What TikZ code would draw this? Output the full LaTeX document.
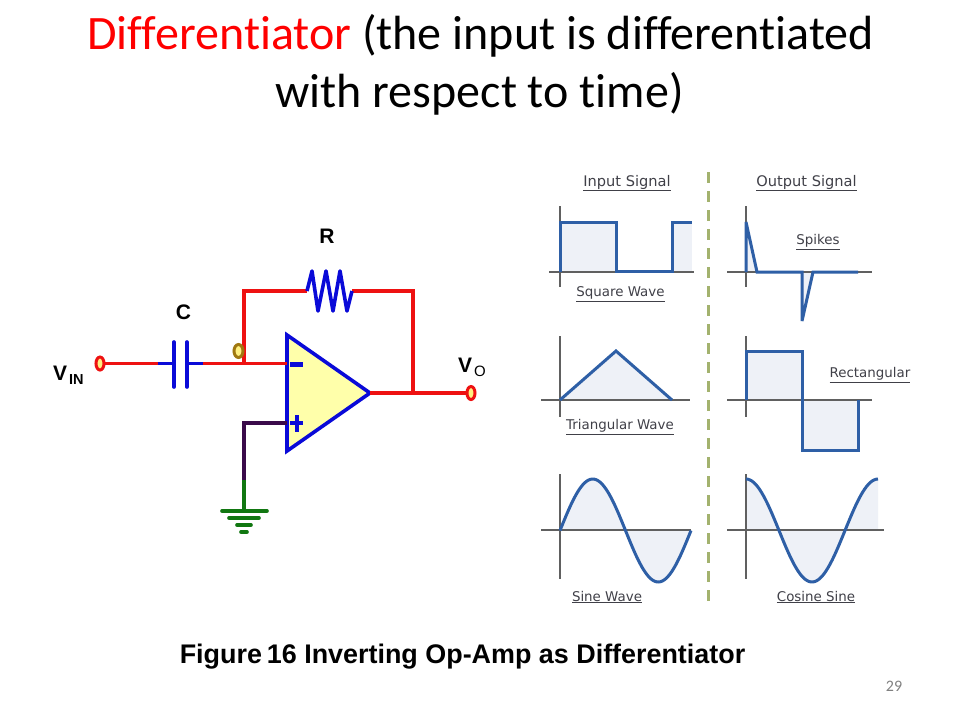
\documentclass[tikz,border=0pt]{standalone}
\usepackage{fontspec}
\setmainfont{Liberation Sans}
\newfontfamily\titlefont[Ligatures=NoCommon]{Carlito}
\newfontfamily\plotfont{DejaVu Sans}
\definecolor{wirered}{HTML}{EE1111}
\definecolor{partblue}{HTML}{0A0AD8}
\definecolor{opfill}{HTML}{FFFFAA}
\definecolor{gndgreen}{HTML}{117711}
\definecolor{purplewire}{HTML}{3A0A4A}
\definecolor{nodeochre}{HTML}{A07810}
\definecolor{nodefill}{HTML}{FFF080}
\definecolor{wave}{HTML}{2E5FA6}
\definecolor{wavefill}{HTML}{EEF1F7}
\definecolor{axisgrey}{HTML}{606060}
\definecolor{divider}{HTML}{A3B26E}
\definecolor{plottext}{HTML}{404048}
\usetikzlibrary{shapes.geometric}
\tikzset{
  wire/.style={draw=wirered,line width=3.6pt},
  part/.style={draw=partblue,line width=3.6pt},
  gwire/.style={draw=gndgreen,line width=3.6pt},
  pwire/.style={draw=purplewire,line width=3.6pt},
  terminal/.style={ellipse,draw=wirered,fill=nodefill,line width=3pt,minimum width=8pt,minimum height=13pt,inner sep=0pt},
  junctionmark/.style={ellipse,draw=nodeochre,fill=nodefill,line width=3pt,minimum width=9pt,minimum height=13pt,inner sep=0pt},
  axisline/.style={draw=axisgrey,line width=1.3pt},
  wavefillst/.style={fill=wavefill,draw=none},
  waveline/.style={draw=wave,line width=3pt,line join=miter,miter limit=2},
  plotlabel/.style={font=\plotfont\fontsize{13.4}{15}\selectfont,text=plottext,inner sep=0pt},
  headlabel/.style={font=\plotfont\fontsize{14.6}{16}\selectfont,text=plottext,inner sep=0pt},
  circlabel/.style={font=\bfseries\fontsize{21}{24}\selectfont,text=black,inner sep=0pt},
  titletext/.style={font=\titlefont\fontsize{48}{48}\selectfont,inner sep=0pt},
}
\newcommand{\ul}[1]{\underline{#1}}
\begin{document}
\begin{tikzpicture}[x=1pt,y=-1pt]
\useasboundingbox (0,0) rectangle (960,720);
\fill[white] (0,0) rectangle (960,720);
% title
\node[titletext] (t1) at (480.5,36) {\textcolor{red}{Differentiator} (the input is differentiated};
\node[titletext] (t2) at (479.5,94) {with respect to time)};
% circuit coordinates
\coordinate (in) at (100,363.5);
\coordinate (cl) at (174,363.5);
\coordinate (cr) at (187,363.5);
\coordinate (j) at (244,363.5);
\coordinate (opm) at (287,363.5);
\coordinate (opp) at (287,423);
\coordinate (apex) at (370,393);
\coordinate (fb) at (413,393);
\coordinate (out) at (471,393);
\coordinate (tl) at (244,291);
\coordinate (tr) at (413,291);
\coordinate (rl) at (307,291);
\coordinate (rr) at (352,291);
\coordinate (gk) at (244,423);
\coordinate (gm) at (244,480);
\coordinate (gb) at (244,511);
% op amp
\draw[part,fill=opfill,line join=miter] (287,335) -- (apex) -- (287,451) -- cycle;
% wires
\draw[wire] (in) -- (158,363.5);
\draw[part] (158,363.5) -- (cl);
\draw[part] (cr) -- (203,363.5);
\draw[wire] (203,363.5) -- (opm);
\draw[wire,line join=miter] (j) -- (tl) -- (rl);
\draw[wire,line join=miter] (rr) -- (tr) -- (fb);
\draw[wire] (apex) -- (out);
\draw[pwire,line join=miter] (opp) -- (gk) -- (gm);
\draw[gwire] (gm) -- (gb);
% capacitor
\draw[part,line cap=round] (174,342) -- (174,387);
\draw[part,line cap=round] (187,342) -- (187,387);
% resistor
\draw[part,line join=round] (rl) -- (312,271) -- (318,311) -- (326,271) -- (333,311) -- (340,271) -- (347,311) -- (rr);
% signs
\draw[part,line width=4.4pt] (290,364.5) -- (303,364.5);
\draw[part] (290,423) -- (303,423);
\draw[part] (297,415) -- (297,432);
% ground
\draw[gwire,line cap=round] (222,511) -- (267,511);
\draw[gwire,line cap=round] (229,518) -- (259,518);
\draw[gwire,line cap=round] (237,525) -- (251,525);
\draw[gwire,line cap=round] (241,532) -- (247,532);
% terminals
\node[terminal] (vin) at (100,363.5) {};
\node[terminal] (vout) at (471,393) {};
\node[junctionmark] (jm) at (238.5,351) {};
% circuit labels
\node[circlabel] (lr) at (327,236) {R};
\node[circlabel] (lc) at (183.5,312) {C};
\node[circlabel,anchor=base west] (lvin) at (53,380) {V};
\node[anchor=base west,inner sep=0pt,font=\bfseries\fontsize{14.5}{16}\selectfont] (lvins) at (69,384) {IN};
\node[circlabel,anchor=base west] (lvo) at (458,372) {V};
\node[anchor=base west,inner sep=0pt,font=\fontsize{15}{18}\selectfont] (lvos) at (474,376) {O};
% divider
\draw[draw=divider,line width=2.6pt,dash pattern=on 11pt off 8pt] (708.7,172) -- (708.7,608);
% square
\fill[wavefillst] (560,272) -- (560,222) -- (616,222) -- (616,272) -- cycle;
\fill[wavefillst] (672,272) -- (672,222) -- (692,222) -- (692,272) -- cycle;
\draw[axisline] (560,206) -- (560,287);
\draw[axisline] (549,272) -- (694,272);
\draw[waveline] (560,272) -- (560,222) -- (616,222) -- (616,271) -- (672,271) -- (672,222) -- (692,222);
\node[headlabel] (l1) at (627,183) {\ul{Input Signal}};
\node[plotlabel] (l2) at (620.5,294) {\ul{Square Wave}};
% spikes
\fill[wavefillst] (746,222) -- (757,272) -- (746,272) -- cycle;
\fill[wavefillst] (802,272) -- (802,321) -- (813,272) -- cycle;
\draw[axisline] (746,206) -- (746,287);
\draw[axisline] (727,272) -- (872,272);
\draw[waveline] (746,272) -- (746,222) -- (757,272) -- (802,272) -- (802,321) -- (813,272) -- (858,272);
\node[headlabel] (l3) at (806.5,183) {\ul{Output Signal}};
\node[plotlabel] (l4) at (818,242) {\ul{Spikes}};
% triangle
\fill[wavefillst] (560,400) -- (616,351) -- (672,400) -- cycle;
\draw[axisline] (560,336) -- (560,417);
\draw[axisline] (541,400) -- (690,400);
\draw[waveline] (560,400) -- (616,351) -- (672,400);
\node[plotlabel] (l5) at (620,427) {\ul{Triangular Wave}};
% rectangular
\fill[wavefillst] (746,400) -- (746,351) -- (802,351) -- (802,400) -- cycle;
\fill[wavefillst] (802,400) -- (802,450) -- (858,450) -- (858,400) -- cycle;
\draw[axisline] (746,336) -- (746,417);
\draw[axisline] (727,400) -- (872,400);
\draw[waveline] (746,400) -- (746,351) -- (802,351) -- (802,450) -- (858,450) -- (858,400);
\node[plotlabel] (l6) at (870,375) {\ul{Rectangular}};
% sine
\fill[wavefillst] plot[domain=0:131,samples=70] ({560+\x},{530.5-51.5*sin(\x/131*360)}) -- cycle;
\draw[axisline] (560,474) -- (560,579);
\draw[axisline] (541,530) -- (691,530);
\draw[waveline] plot[smooth,domain=0:131,samples=70] ({560+\x},{530.5-51.5*sin(\x/131*360)});
\node[plotlabel] (l7) at (607,597) {\ul{Sine Wave}};
% cosine
\fill[wavefillst] (746,530.5) -- plot[domain=0:132,samples=70] ({746+\x},{530.5-51.5*cos(\x/132*360)}) -- (878,530.5) -- cycle;
\draw[axisline] (746,474) -- (746,579);
\draw[axisline] (727,530) -- (884,530);
\draw[waveline] plot[smooth,domain=0:132,samples=70] ({746+\x},{530.5-51.5*cos(\x/132*360)});
\node[plotlabel] (l8) at (816,597) {\ul{Cosine Sine}};
% caption
\node[font=\bfseries\fontsize{26.9}{30}\selectfont,inner sep=0pt] (cap) at (462.5,657) {Figure\hspace{5pt}16 Inverting Op-Amp as Differentiator};
\node[font=\titlefont\fontsize{16}{18}\selectfont,text=black!50,inner sep=0pt] (num) at (894,686) {29};
\end{tikzpicture}
\end{document}
